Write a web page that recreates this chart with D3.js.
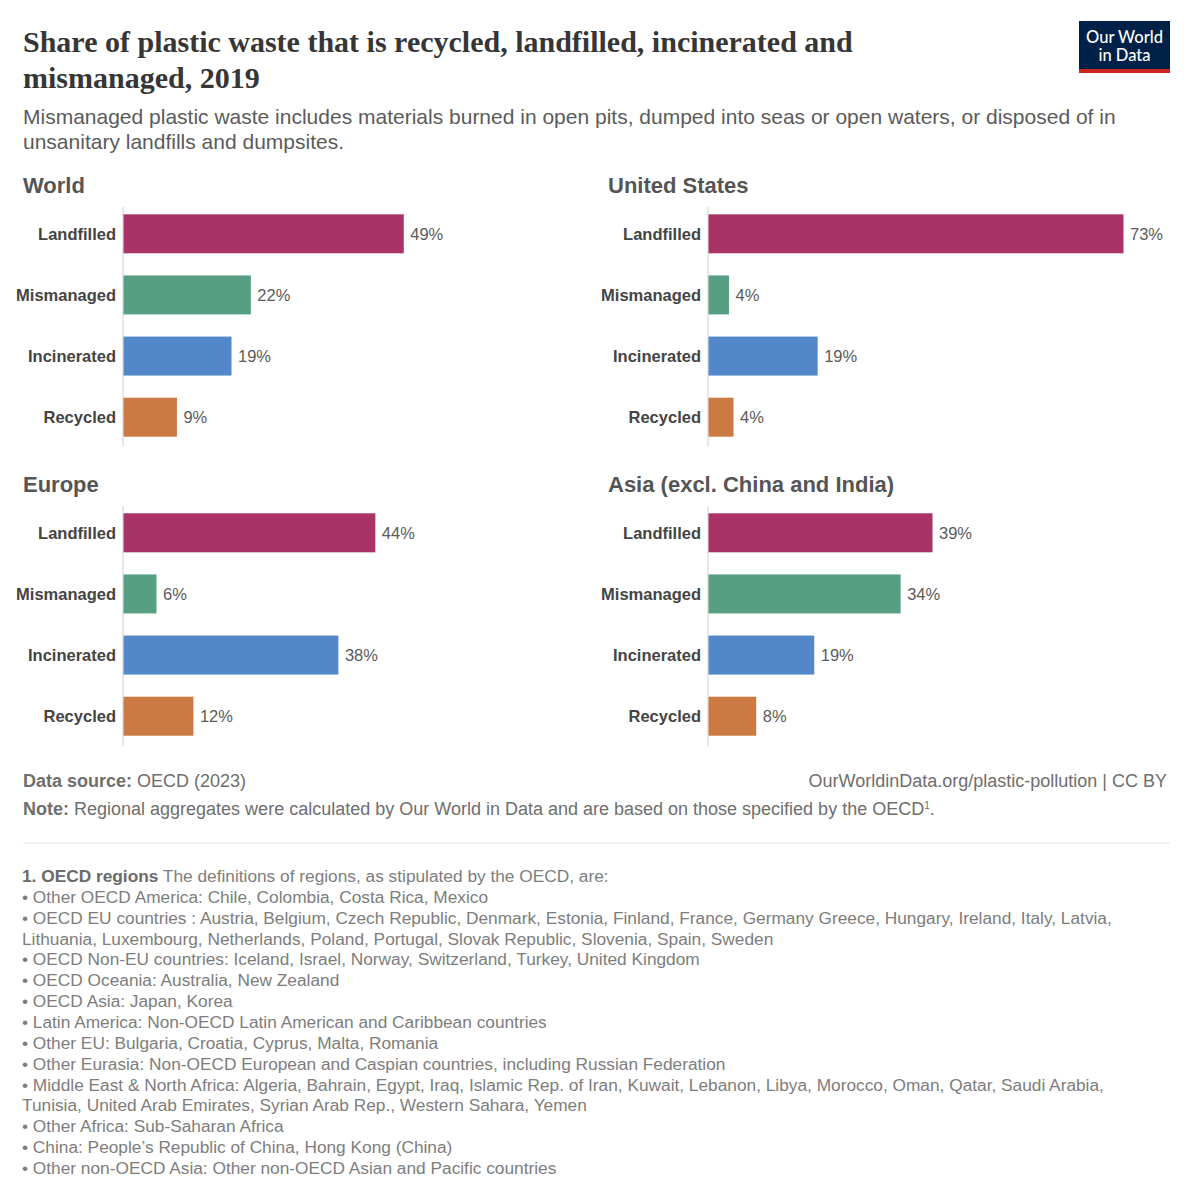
<!DOCTYPE html>
<html>
<head>
<meta charset="utf-8">
<script src="https://cdn.jsdelivr.net/npm/d3@7"></script>
<style>
  html, body { margin: 0; padding: 0; background: #fff; }
  svg text { font-family: "Liberation Sans", Arial, sans-serif; }
</style>
</head>
<body>
<svg id="chart" width="1193" height="1200"></svg>
<script>
// ---- data ----
const categories = ["Landfilled", "Mismanaged", "Incinerated", "Recycled"];
const regions = ["World", "United States", "Europe", "Asia (excl. China and India)"];
const worldValues = [49.3, 22.4, 19.0, 9.4];
const usValues = [73.0, 3.6, 19.2, 4.4];
const europeValues = [44.3, 5.8, 37.8, 12.3];
const asiaValues = [39.4, 33.8, 18.6, 8.4];
const categoryColors = ["#a93366", "#579f83", "#5288c9", "#cb7a43"];

const titleLines = ["Share of plastic waste that is recycled, landfilled, incinerated and", "mismanaged, 2019"];
const subtitleLines = ["Mismanaged plastic waste includes materials burned in open pits, dumped into seas or open waters, or disposed of in", "unsanitary landfills and dumpsites."];
const footnoteLines = [
  "• Other OECD America: Chile, Colombia, Costa Rica, Mexico",
  "• OECD EU countries : Austria, Belgium, Czech Republic, Denmark, Estonia, Finland, France, Germany Greece, Hungary, Ireland, Italy, Latvia,",
  "Lithuania, Luxembourg, Netherlands, Poland, Portugal, Slovak Republic, Slovenia, Spain, Sweden",
  "• OECD Non-EU countries: Iceland, Israel, Norway, Switzerland, Turkey, United Kingdom",
  "• OECD Oceania: Australia, New Zealand",
  "• OECD Asia: Japan, Korea",
  "• Latin America: Non-OECD Latin American and Caribbean countries",
  "• Other EU: Bulgaria, Croatia, Cyprus, Malta, Romania",
  "• Other Eurasia: Non-OECD European and Caspian countries, including Russian Federation",
  "• Middle East & North Africa: Algeria, Bahrain, Egypt, Iraq, Islamic Rep. of Iran, Kuwait, Lebanon, Libya, Morocco, Oman, Qatar, Saudi Arabia,",
  "Tunisia, United Arab Emirates, Syrian Arab Rep., Western Sahara, Yemen",
  "• Other Africa: Sub-Saharan Africa",
  "• China: People’s Republic of China, Hong Kong (China)",
  "• Other non-OECD Asia: Other non-OECD Asian and Pacific countries"
];

const panelValues = [worldValues, usValues, europeValues, asiaValues];

// ---- drawing ----
const svg = d3.select("#chart");

// Title
const title = svg.append("text")
  .style("font-family", "'Liberation Serif', 'Times New Roman', serif")
  .style("font-weight", "bold").style("font-size", "30px").attr("fill", "#363636");
titleLines.forEach((t, i) => title.append("tspan").attr("x", 23).attr("y", 52 + i * 36).text(t));

// Subtitle
const sub = svg.append("text").attr("fill", "#5b5b5b").style("font-size", "21px");
subtitleLines.forEach((t, i) => sub.append("tspan").attr("x", 23).attr("y", 124 + i * 25).text(t));

// Logo
const logo = svg.append("g").attr("transform", "translate(1079,21)");
logo.append("rect").attr("width", 91).attr("height", 52).attr("fill", "#002147");
logo.append("rect").attr("y", 48).attr("width", 91).attr("height", 4).attr("fill", "#ce261e");
logo.append("text").attr("x", 45.5).attr("y", 22).attr("text-anchor", "middle")
  .attr("fill", "#fff").style("font-size", "16.5px").style("font-family", "Lato, 'Liberation Sans', sans-serif").style("font-weight", "500").text("Our World");
logo.append("text").attr("x", 45.5).attr("y", 40).attr("text-anchor", "middle")
  .attr("fill", "#fff").style("font-size", "16.5px").style("font-family", "Lato, 'Liberation Sans', sans-serif").style("font-weight", "500").text("in Data");

// Panels
const panelPos = [
  { titleX: 23, axisX: 123, top: 0 },
  { titleX: 608, axisX: 708, top: 0 },
  { titleX: 23, axisX: 123, top: 299 },
  { titleX: 608, axisX: 708, top: 299 }
];

const x = d3.scaleLinear().domain([0, d3.max(usValues)]).range([0, 415]);
const y = d3.scaleBand().domain(categories).range([203.3, 447.7]).paddingInner(0.362).paddingOuter(0.18);
const color = d3.scaleOrdinal().domain(categories).range(categoryColors);
const fmt = v => d3.format(".0f")(v) + "%";

regions.forEach((name, pi) => {
  const p = panelPos[pi];
  const g = svg.append("g").attr("transform", `translate(0,${p.top})`);
  g.append("text").attr("x", p.titleX).attr("y", 193)
    .attr("fill", "#555").style("font-size", "22px").style("font-weight", "bold").text(name);

  const data = categories.map((c, i) => ({ c, v: panelValues[pi][i] }));

  const gx = g.append("g").attr("transform", `translate(${p.axisX},0)`);
  gx.append("line").attr("x1", 0).attr("x2", 0).attr("y1", 207).attr("y2", 447)
    .attr("stroke", "#cfcfcf").attr("stroke-width", 1);

  gx.selectAll("rect.bar").data(data).join("rect").attr("class", "bar")
    .attr("x", 0.5).attr("y", d => y(d.c)).attr("width", d => x(d.v)).attr("height", y.bandwidth())
    .attr("fill", d => color(d.c));

  gx.selectAll("text.val").data(data).join("text").attr("class", "val")
    .attr("x", d => x(d.v) + 7).attr("y", d => y(d.c) + y.bandwidth() / 2).attr("dy", "0.35em")
    .attr("fill", "#5b5b5b").style("font-size", "16.5px").text(d => fmt(d.v));

  gx.selectAll("text.cat").data(data).join("text").attr("class", "cat")
    .attr("x", -7).attr("y", d => y(d.c) + y.bandwidth() / 2).attr("dy", "0.35em")
    .attr("text-anchor", "end").attr("fill", "#444").style("font-size", "16.5px").style("font-weight", "bold")
    .text(d => d.c);
});

// Footer
const src = svg.append("text").attr("x", 23).attr("y", 787).attr("fill", "#6e6e6e").style("font-size", "18px");
src.append("tspan").style("font-weight", "bold").text("Data source:");
src.append("tspan").text(" OECD (2023)");
svg.append("text").attr("x", 1167).attr("y", 787).attr("text-anchor", "end").attr("fill", "#6e6e6e")
  .style("font-size", "18px").text("OurWorldinData.org/plastic-pollution | CC BY");
const note = svg.append("text").attr("x", 23).attr("y", 815).attr("fill", "#6e6e6e").style("font-size", "18px");
note.append("tspan").style("font-weight", "bold").text("Note:");
note.append("tspan").text(" Regional aggregates were calculated by Our World in Data and are based on those specified by the OECD");
note.append("tspan").style("font-size", "10px").attr("dy", "-6").text("1");
note.append("tspan").attr("dy", "6").text(".");

svg.append("line").attr("x1", 23).attr("x2", 1170).attr("y1", 843).attr("y2", 843)
  .attr("stroke", "#e4e4e4").attr("stroke-width", 1);

// Footnotes
const fnTop = 882, fnStep = 20.85;
const fn0 = svg.append("text").attr("x", 22).attr("y", fnTop).attr("fill", "#7d7d7d").style("font-size", "17.3px");
fn0.append("tspan").style("font-weight", "bold").attr("fill", "#6a6a6a").text("1. OECD regions");
fn0.append("tspan").text(" The definitions of regions, as stipulated by the OECD, are:");
svg.selectAll("text.fn").data(footnoteLines).join("text").attr("class", "fn")
  .attr("x", 22).attr("y", (d, i) => fnTop + (i + 1) * fnStep)
  .attr("fill", "#7d7d7d").style("font-size", "17.3px").text(d => d);
</script>
</body>
</html>
